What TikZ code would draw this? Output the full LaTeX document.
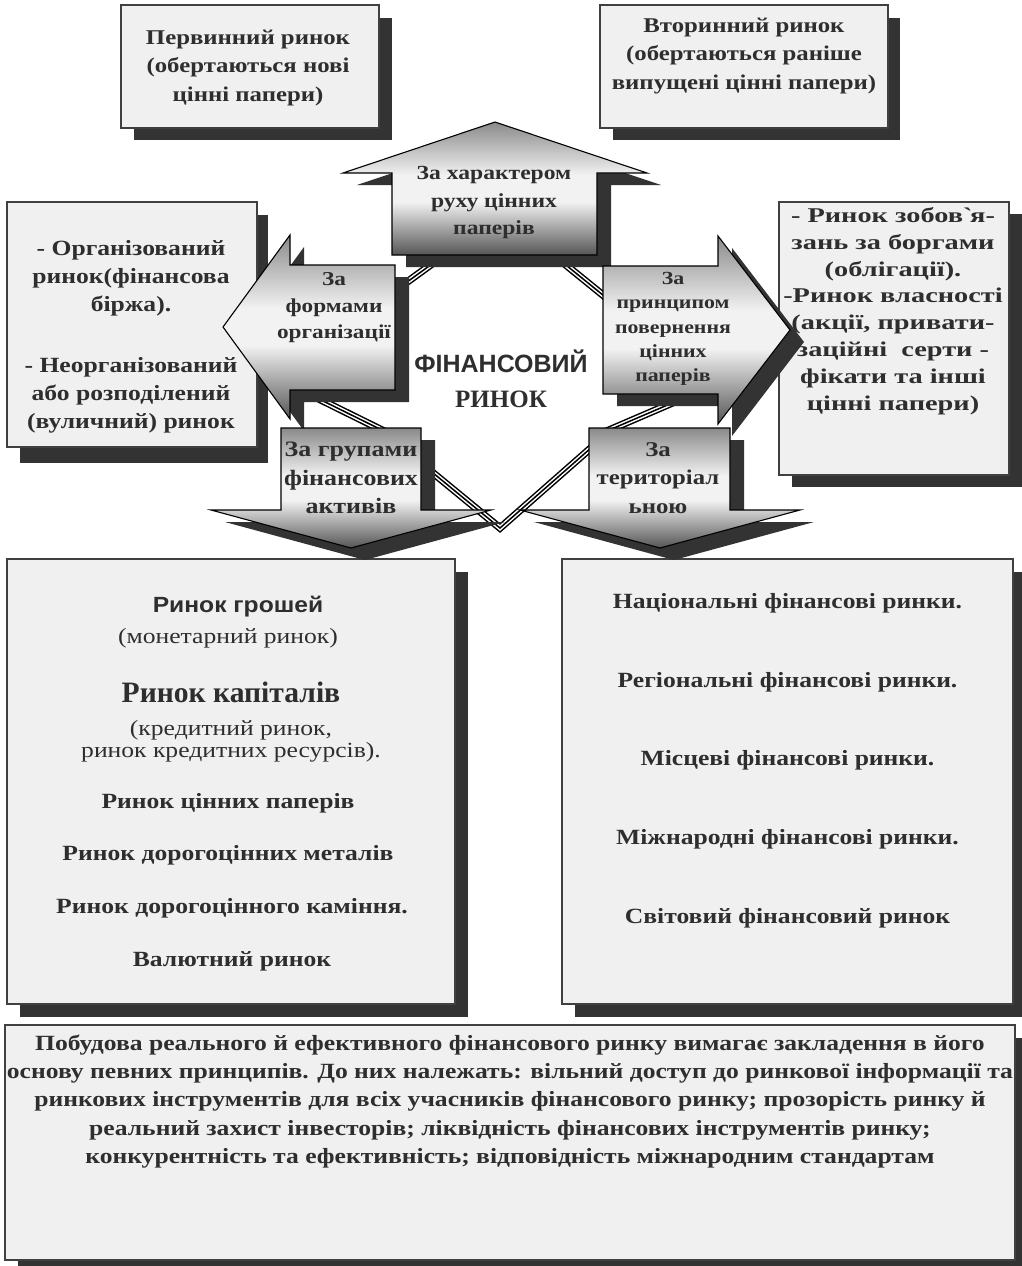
\documentclass[tikz,border=0pt]{standalone}
\usepackage{fontspec}
\setmainfont{Liberation Serif}[FakeStretch=1.18]
\newfontfamily\plainserif{Liberation Serif}
\newfontfamily\wideserif{Liberation Serif}[FakeStretch=1.35]
\newfontfamily\sansstr{Liberation Sans}[FakeStretch=1.12]
\newfontfamily\sansplain{Liberation Sans}
\usetikzlibrary{calc}

\definecolor{boxfill}{HTML}{F0F0F0}
\definecolor{shadowc}{HTML}{333333}
\definecolor{ink}{HTML}{2E2E2E}
\definecolor{edge}{HTML}{404040}
\definecolor{ashTop}{HTML}{8A8A8A}
\definecolor{ashMid}{HTML}{F2F2F2}
\definecolor{ashBot}{HTML}{555555}
% vertical gradient of the arrows: grey top, light band, dark bottom
\pgfdeclareverticalshading{arrowshade}{100bp}{color(0bp)=(ashBot); color(25bp)=(ashBot); color(45bp)=(ashMid); color(55bp)=(ashMid); color(75bp)=(ashTop); color(100bp)=(ashTop)}

\begin{document}
\begin{tikzpicture}[x=1pt,y=-1pt,line join=miter,
  box/.style={draw=edge, line width=1.1, fill=boxfill, inner sep=0pt, outer sep=0pt},
  boxshadow/.style={fill=shadowc},
  arrowbody/.style={draw=black, line width=1.1, shade, shading=arrowshade},
  arrowshadow/.style={fill=shadowc, shift={(14,12)}},
  triple/.style={draw=black, line width=7.5,
    postaction={draw=white, line width=4.5},
    postaction={draw=black, line width=1.5}},
  txt/.style={text=ink, align=center, inner sep=0pt,
    font=\bfseries\fontsize{21.7}{28}\selectfont},
  line/.style={text=ink, inner sep=0pt, anchor=base,
    font=\bfseries\fontsize{21.7}{28}\selectfont},
  reg/.style={text=ink, inner sep=0pt, anchor=base,
    font=\fontsize{21.7}{24}\selectfont}]

\useasboundingbox (0,0) rectangle (1021,1266);
\fill[white] (0,0) rectangle (1021,1266);

% ---------- shadows of the boxes ----------
\fill[boxshadow] (134,18) rectangle (392,140);
\fill[boxshadow] (613,18) rectangle (900,140);
\fill[boxshadow] (20,215) rectangle (268,463);
\fill[boxshadow] (792,214) rectangle (1030,487);
\fill[boxshadow] (20,572) rectangle (468,1017);
\fill[boxshadow] (575,572) rectangle (1030,1017);
\fill[boxshadow] (18,1038) rectangle (1030,1280);

% ---------- boxes ----------
\node[box, minimum width=258, minimum height=123] (primbox) at (250,66.5) {};
\node[box, minimum width=288, minimum height=123] (secbox) at (744,66.5) {};
\node[box, minimum width=250, minimum height=245] (orgbox) at (132,324.5) {};
\node[box, minimum width=230, minimum height=273] (retbox) at (894,338.5) {};
\node[box, minimum width=448, minimum height=445] (assetbox) at (231,781.5) {};
\node[box, minimum width=451, minimum height=445] (terrbox) at (787.5,781.5) {};
\node[box, minimum width=1010, minimum height=235] (notebox) at (510,1142.5) {};

% ---------- ring of triple lines behind the arrows ----------
\coordinate (ulA) at (385,298);  \coordinate (ulB) at (465,240);
\coordinate (urA) at (545,248);  \coordinate (urB) at (625,313);
\coordinate (lbA) at (315,397);  \coordinate (lbB) at (400,439);
\coordinate (rbA) at (600,434);  \coordinate (rbB) at (700,391);
\coordinate (vL) at (410,454);   \coordinate (vtx) at (500,528);
\coordinate (vR) at (600,440);
\draw[triple] (ulA) -- (ulB);
\draw[triple] (urA) -- (urB);
\draw[triple] (lbA) -- (lbB);
\draw[triple] (rbA) -- (rbB);
\draw[triple] (vL) -- (vtx) -- (vR);

% ---------- arrow shadows ----------
\fill[arrowshadow] (495,122) -- (647,173) -- (597,173) -- (597,255) -- (392,255) -- (392,173) -- (343,173) -- cycle;
\fill[arrowshadow] (223,327) -- (290,235) -- (290,265) -- (395,265) -- (395,390) -- (290,390) -- (290,419) -- cycle;
\fill[arrowshadow] (790,330) -- (718,236) -- (718,266) -- (603,266) -- (603,394) -- (718,394) -- (718,424) -- cycle;
\fill[arrowshadow] (351,548) -- (491,510) -- (421,510) -- (421,428) -- (281,428) -- (281,510) -- (211,510) -- cycle;
\fill[arrowshadow] (660,548) -- (800,510) -- (730,510) -- (730,428) -- (589,428) -- (589,510) -- (520,510) -- cycle;

% ---------- arrows ----------
\path[arrowbody] (495,122) -- (647,173) -- (597,173) -- (597,255) -- (392,255) -- (392,173) -- (343,173) -- cycle;
\path[arrowbody] (223,327) -- (290,235) -- (290,265) -- (395,265) -- (395,390) -- (290,390) -- (290,419) -- cycle;
\path[arrowbody] (790,330) -- (718,236) -- (718,266) -- (603,266) -- (603,394) -- (718,394) -- (718,424) -- cycle;
\path[arrowbody] (351,548) -- (491,510) -- (421,510) -- (421,428) -- (281,428) -- (281,510) -- (211,510) -- cycle;
\path[arrowbody] (660,548) -- (800,510) -- (730,510) -- (730,428) -- (589,428) -- (589,510) -- (520,510) -- cycle;

% ---------- texts of the top boxes ----------
\node[txt, font=\bfseries\fontsize{21}{28.5}\selectfont] (primtxt) at (248,68) {Первинний ринок\\(обертаються нові\\цінні папери)};
\node[txt, font=\bfseries\fontsize{21}{28.5}\selectfont] (sectxt) at (744,56) {Вторинний ринок\\(обертаються раніше\\випущені цінні папери)};

% ---------- side boxes ----------
\node[txt] (orgtxtA) at (131,278) {- Організований\\ринок(фінансова\\біржа).};
\node[txt] (orgtxtB) at (131,395) {- Неорганізований\\або розподілений\\(вуличний) ринок};
\node[txt, font=\wideserif\bfseries\fontsize{21}{26.8}\selectfont] (rettxt) at (893,311)
  {- Ринок зобов\textasciigrave я-\\зань за боргами\\(облігації).\\-Ринок власності\\(акції, привати-\\заційні\ \ серти -\\фікати та інші\\цінні папери)};

% ---------- arrow captions ----------
\node[txt, font=\bfseries\fontsize{20}{27.5}\selectfont] (movtxt) at (494,203) {За характером\\руху цінних\\паперів};
\node[txt, font=\bfseries\fontsize{19.7}{26.5}\selectfont] (formtxt) at (334,308) {За\\формами\\організації};
\node[txt, font=\bfseries\fontsize{18.5}{24.3}\selectfont] (printxt) at (673,329) {За\\принципом\\повернення\\цінних\\паперів};
\node[txt, font=\bfseries\fontsize{22}{28.5}\selectfont] (grptxt) at (351,478) {За групами\\фінансових\\активів};
\node[txt, font=\bfseries\fontsize{21}{28.5}\selectfont] (territxt) at (658,478) {За\\територіал\\ьною};

% ---------- centre ----------
\node[line, font=\sansplain\bfseries\fontsize{25}{30}\selectfont] (centreA) at (501,372) {ФІНАНСОВИЙ};
\node[line, font=\plainserif\bfseries\fontsize{25}{30}\selectfont] (centreB) at (501,407) {РИНОК};

% ---------- groups of financial assets ----------
\node[line, font=\sansstr\bfseries\fontsize{22}{26}\selectfont] (assetA) at (238,612) {Ринок грошей};
\node[reg] (assetB) at (228,643) {(монетарний ринок)};
\node[line, font=\plainserif\bfseries\fontsize{29.6}{32}\selectfont] (assetC) at (231,702) {Ринок капіталів};
\node[reg] (assetD) at (231,735) {(кредитний ринок,};
\node[reg] (assetE) at (231,757) {ринок кредитних ресурсів).};
\node[line] (assetF) at (228,808) {Ринок цінних паперів};
\node[line] (assetG) at (228,860) {Ринок дорогоцінних металів};
\node[line] (assetH) at (232,913) {Ринок дорогоцінного каміння.};
\node[line] (assetI) at (232,966) {Валютний ринок};

% ---------- territorial division ----------
\node[line] (terrA) at (787.5,608) {Національні фінансові ринки.};
\node[line] (terrB) at (787.5,687) {Регіональні фінансові ринки.};
\node[line] (terrC) at (787.5,765) {Місцеві фінансові ринки.};
\node[line] (terrD) at (787.5,844) {Міжнародні фінансові ринки.};
\node[line] (terrE) at (787.5,923) {Світовий фінансовий ринок};

% ---------- principles ----------
\node[txt, font=\bfseries\fontsize{21.7}{28.3}\selectfont] (notetxt) at (510,1101.5)
  {Побудова реального й ефективного фінансового ринку вимагає закладення в його\\
   основу певних принципів. До них належать: вільний доступ до ринкової інформації та\\
   ринкових інструментів для всіх учасників фінансового ринку; прозорість ринку й\\
   реальний захист інвесторів; ліквідність фінансових інструментів ринку;\\
   конкурентність та ефективність; відповідність міжнародним стандартам};
\end{tikzpicture}
\end{document}
